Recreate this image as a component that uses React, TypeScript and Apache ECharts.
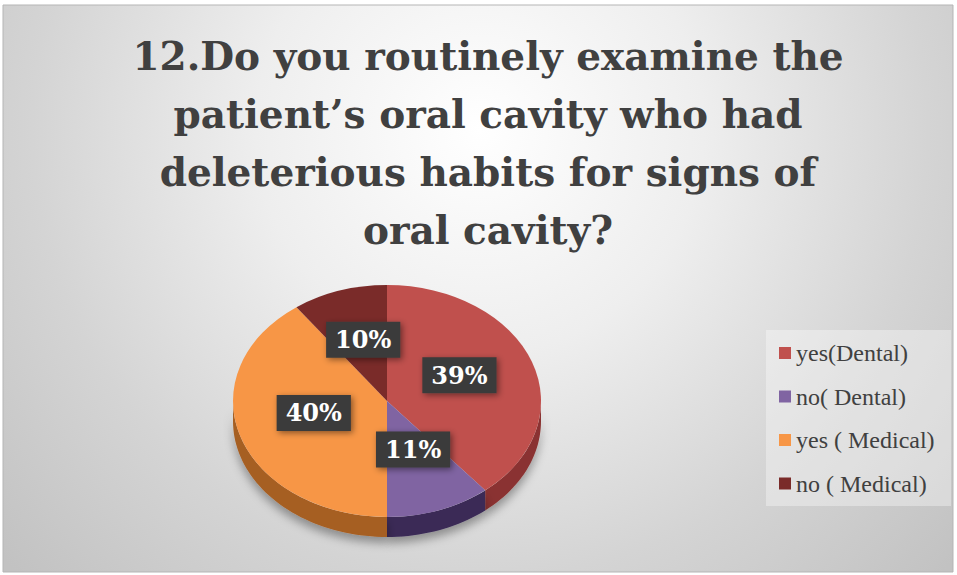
import React, { useEffect, useRef } from "react";
import * as echarts from "echarts";

const titleText =
  "12.Do you routinely examine the\npatient\u2019s oral cavity who had\ndeleterious habits for signs of\noral cavity?";
const categories = ["yes(Dental)", "no( Dental)", "yes ( Medical)", "no ( Medical)"];
const values = [39, 11, 40, 10];
const percentLabels = ["39%", "11%", "40%", "10%"];
const colors = ["#c0504d", "#8064a2", "#f79646", "#7a2b29"];
const sideColors = ["#8a3230", "#3b2b57", "#a65e22", "#561d1c"];

const CX = 387;
const CY = 401;
const RX = 154;
const RY = 116;
const DEPTH = 20;

const sinD = (d: number) => Math.sin((d * Math.PI) / 180);
const cosD = (d: number) => Math.cos((d * Math.PI) / 180);

export default function App() {
  const ref = useRef<HTMLDivElement>(null);
  useEffect(() => {
    if (!ref.current) return;
    const chart = echarts.init(ref.current, null, { renderer: "svg" });
    const total = values.reduce((a, b) => a + b, 0);

    const renderItem = (params: any, api: any) => {
      const i = params.dataIndex;
      let start = 0;
      for (let k = 0; k < i; k++) start += values[k];
      const a0 = (start / total) * 360;
      const a1 = ((start + api.value(0)) / total) * 360;
      const children: any[] = [];
      const s = Math.max(a0, 90);
      const e = Math.min(a1, 270);
      if (e > s) {
        const pts: number[][] = [];
        const n = Math.max(2, Math.ceil((e - s) / 2));
        for (let j = 0; j <= n; j++) {
          const t = s + ((e - s) * j) / n;
          pts.push([CX + RX * sinD(t), CY - RY * cosD(t)]);
        }
        for (let j = n; j >= 0; j--) {
          const t = s + ((e - s) * j) / n;
          pts.push([CX + RX * sinD(t), CY - RY * cosD(t) + DEPTH]);
        }
        children.push({
          type: "polygon",
          shape: { points: pts },
          style: {
            fill: sideColors[i],
            shadowBlur: 10,
            shadowColor: "rgba(0,0,0,0.35)",
            shadowOffsetY: 6,
          },
          z2: 1,
        });
      }
      children.push({
        type: "group",
        x: CX,
        y: CY,
        scaleY: RY / RX,
        children: [
          {
            type: "sector",
            shape: {
              cx: 0,
              cy: 0,
              r0: 0,
              r: RX,
              startAngle: ((a0 - 90) * Math.PI) / 180,
              endAngle: ((a1 - 90) * Math.PI) / 180,
              clockwise: true,
            },
            style: { fill: colors[i] },
            z2: 10,
          },
        ],
      });
      const mid = (a0 + a1) / 2;
      children.push({
        type: "text",
        x: CX + RX * 0.5 * sinD(mid),
        y: CY - RY * 0.5 * cosD(mid) - 6,
        style: {
          text: percentLabels[i],
          fill: "#ffffff",
          font: 'bold 24px "DejaVu Serif"',
          align: "center",
          verticalAlign: "middle",
          backgroundColor: "#3a3a3a",
          padding: [7, 9, 5, 9],
          shadowBlur: 6,
          shadowColor: "rgba(0,0,0,0.45)",
          shadowOffsetX: 2,
          shadowOffsetY: 2,
        },
        z2: 20,
      });
      return { type: "group", children };
    };

    chart.setOption({
      animation: false,
      graphic: [
        {
          type: "rect",
          z: -10,
          shape: { x: 3, y: 5, width: 950, height: 567 },
          style: {
            fill: {
              type: "radial",
              x: 480,
              y: 130,
              r: 640,
              global: true,
              colorStops: [
                { offset: 0, color: "#ffffff" },
                { offset: 0.35, color: "#eeeeee" },
                { offset: 0.7, color: "#d4d4d4" },
                { offset: 1, color: "#c2c2c2" },
              ],
            },
            stroke: "#b5b5b5",
            lineWidth: 1,
          },
        },
        {
          type: "rect",
          z: -5,
          shape: { x: 766, y: 330, width: 185, height: 176 },
          style: { fill: "rgba(255,255,255,0.35)" },
        },
      ],
      title: {
        text: titleText,
        left: 488,
        top: 27,
        padding: 0,
        textAlign: "center",
        textStyle: {
          fontFamily: "DejaVu Serif",
          fontWeight: "bold",
          fontSize: 39,
          lineHeight: 58,
          color: "#404040",
        },
      },
      legend: {
        data: categories,
        orient: "vertical",
        left: 779,
        top: 341,
        icon: "rect",
        itemWidth: 12,
        itemHeight: 12,
        itemGap: 19.5,
        padding: 0,
        selectedMode: false,
        textStyle: {
          fontFamily: "Liberation Serif",
          fontSize: 24,
          lineHeight: 24,
          color: "#404040",
        },
      },
      series: [
        {
          type: "custom",
          coordinateSystem: "none",
          data: values,
          renderItem,
        },
        {
          type: "pie",
          center: [-200, -200],
          radius: 5,
          silent: true,
          label: { show: false },
          data: categories.map((c, i) => ({ name: c, value: values[i], itemStyle: { color: colors[i] } })),
        },
      ],
    });
    return () => chart.dispose();
  }, []);
  return (
    <div
      ref={ref}
      style={{ position: "absolute", left: 0, top: 0, width: 957, height: 575 }}
    />
  );
}
